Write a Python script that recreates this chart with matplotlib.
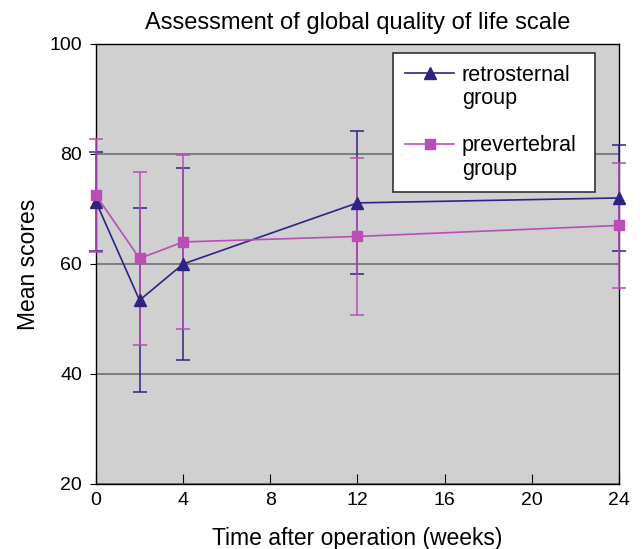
import matplotlib.pyplot as plt
from matplotlib.lines import Line2D

plt.rcParams['font.family'] = ['Liberation Sans', 'DejaVu Sans']

# Data
weeks = [0, 2, 4, 12, 24]
retro_mean = [71.3, 53.4, 60.0, 71.1, 72.0]
retro_err = [9.0, 16.7, 17.4, 13.0, 9.6]
prev_mean = [72.5, 61.0, 64.0, 65.0, 67.0]
prev_err = [10.3, 15.7, 15.8, 14.2, 11.4]

navy = '#2e2383'
magenta = '#bb4db7'

fig = plt.figure(figsize=(6.42, 5.49), dpi=100)
ax = fig.add_axes([0.1495, 0.1184, 0.8145, 0.8016])
ax.set_facecolor('#d0d0d0')

# Error bars first, lines and markers on top
ax.errorbar(weeks, retro_mean, yerr=retro_err, fmt='none', ecolor=navy,
            elinewidth=1.1, capsize=4.7, capthick=1.1, clip_on=False, zorder=3)
ax.errorbar(weeks, prev_mean, yerr=prev_err, fmt='none', ecolor=magenta,
            elinewidth=1.1, capsize=4.7, capthick=1.1, clip_on=False, zorder=4)
l_retro, = ax.plot(weeks, retro_mean, color=navy, lw=1.2, marker='^', ms=8.5,
                   clip_on=False, zorder=5)
l_prev, = ax.plot(weeks, prev_mean, color=magenta, lw=1.2, marker='s', ms=7,
                  clip_on=False, zorder=6)

ax.set_xlim(0, 24)
ax.set_ylim(20, 100)
ax.set_xticks([0, 4, 8, 12, 16, 20, 24])
ax.set_yticks([20, 40, 60, 80, 100])
ax.yaxis.grid(True, color='#6e6e6e', lw=1.2)
ax.set_axisbelow(True)
ax.tick_params(axis='x', direction='in', length=7, labelsize=14, pad=6)
ax.tick_params(axis='y', direction='out', length=4, labelsize=14, pad=6)
for s in ax.spines.values():
    s.set_color('black')
    s.set_linewidth(1.0)

ax.set_title('Assessment of global quality of life scale', fontsize=17, pad=11)
ax.set_xlabel('Time after operation (weeks)', fontsize=16.5, labelpad=13)
ax.set_ylabel('Mean scores', fontsize=16.5, labelpad=7)

# legend: two-line labels, handle next to the first line
blank = Line2D([], [], color='none')
leg = ax.legend([l_retro, blank, blank, l_prev, blank],
                ['retrosternal', 'group', 'group', 'prevertebral', 'group'],
                loc='upper left', bbox_to_anchor=(0.568, 0.0, 0.386, 0.98),
                mode='expand', fontsize=15.5, frameon=True, fancybox=False,
                framealpha=1.0, handlelength=2.3, labelspacing=0.12,
                borderpad=0.55, handletextpad=0.35, borderaxespad=0)
leg.get_texts()[2].set_alpha(0)
leg.get_frame().set_edgecolor('#333333')
leg.get_frame().set_linewidth(1.2)

fig.savefig('out.png', dpi=100)
